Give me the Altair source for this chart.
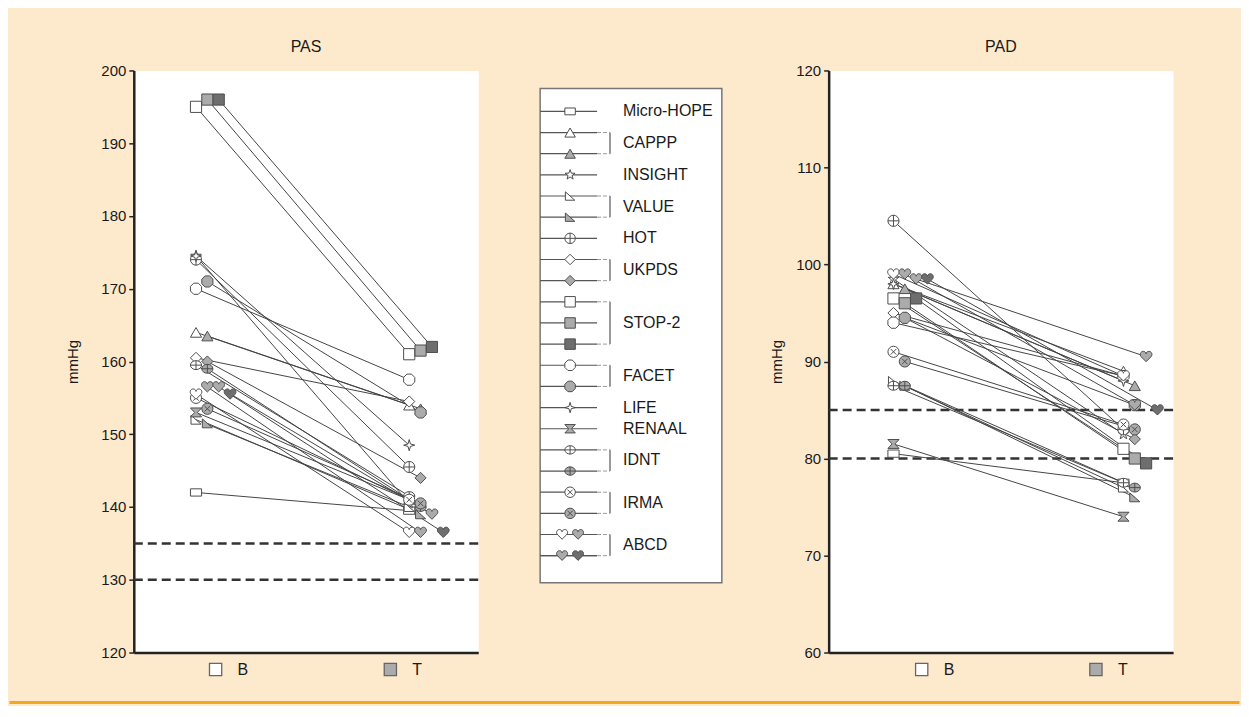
import altair as alt
import pandas as pd

FONT = "Liberation Sans, Arial, sans-serif"
BEIGE = "#FDE9CC"
ORANGE = "#F6A51F"
INK = "#1a1a1a"

# ---- data ----
groups = ["Micro-HOPE", "CAPPP", "CAPPP", "INSIGHT", "VALUE", "VALUE", "HOT",
          "UKPDS", "UKPDS", "STOP-2", "STOP-2", "STOP-2", "FACET", "FACET",
          "LIFE", "RENAAL", "IDNT", "IDNT", "IRMA", "IRMA",
          "ABCD", "ABCD", "ABCD", "ABCD"]
tones = ["white", "white", "grey", "white", "white", "grey", "white",
         "white", "grey", "white", "grey", "dark", "white", "grey",
         "white", "grey", "white", "grey", "white", "grey",
         "white", "grey", "grey", "dark"]
symbols = ["rect", "triangle", "triangle", "star", "value", "value", "hot",
           "diamond", "diamond", "square", "square", "square", "octagon", "octagon",
           "life", "renaal", "idnt", "idnt", "irma", "irma",
           "heart", "heart", "heart", "heart"]

pas_b = [142, 164, 163.5, 174.5, 152, 151.5, 174,
         160.5, 160, 195, 196, 196, 170, 171,
         174.5, 153, 159.5, 159, 155, 153.5,
         155.5, 156.5, 156.5, 155.5]
pas_t = [139.5, 154, 153.5, 140.5, 140, 139, 145.5,
         154.5, 144, 161, 161.5, 162, 157.5, 153,
         148.5, 141, 141.5, 140, 141, 140.5,
         136.5, 136.5, 139, 136.5]
pad_b = [80.5, 98, 97.5, 98.5, 88, 87.5, 104.5,
         95, 94.5, 96.5, 96, 96.5, 94, 94.5,
         98, 81.5, 87.5, 87.5, 91, 90,
         99, 99, 98.5, 98.5]
pad_t = [77.5, 89, 87.5, 82.5, 77, 76, 83,
         88.5, 82, 81, 80, 79.5, 88.5, 85.5,
         88, 74, 77.5, 77, 83.5, 83,
         88.5, 85.5, 90.5, 85]

time_labels = ["B", "T"]
time_tones = ["white", "grey"]
pas_targets = [130, 135]
pad_targets = [80, 85]
pas_ticks = [120, 130, 140, 150, 160, 170, 180, 190, 200]
pad_ticks = [60, 70, 80, 90, 100, 110, 120]

# ---- styles ----
tone_domain = ["white", "grey", "dark"]
tone_range = ["#ffffff", "#ababab", "#6e6e6e"]
shape_domain = ["rect", "triangle", "star", "value", "hot", "diamond", "square",
                "octagon", "life", "renaal", "idnt", "irma", "heart"]
shape_range = [
    "M-1,-0.65L1,-0.65L1,0.65L-1,0.65Z",
    "triangle-up",
    "M0,-1L0.235,-0.324L0.951,-0.309L0.38,0.124L0.588,0.809L0,0.4L-0.588,0.809L-0.38,0.124L-0.951,-0.309L-0.235,-0.324Z",
    "M-0.9,-0.8L0.9,0.8L-0.9,0.8Z",
    "M-1,0A1,1 0 1,0 1,0A1,1 0 1,0 -1,0Z M-1,0L1,0M0,-1L0,1",
    "diamond",
    "square",
    "M-0.41,-1L0.41,-1L1,-0.41L1,0.41L0.41,1L-0.41,1L-1,0.41L-1,-0.41Z",
    "M0,-1L0.22,-0.22L1,0L0.22,0.22L0,1L-0.22,0.22L-1,0L-0.22,-0.22Z",
    "M-1,-0.8L1,-0.8L0.25,0L1,0.8L-1,0.8L-0.25,0Z",
    "M-1,0A1,0.8 0 1,0 1,0A1,0.8 0 1,0 -1,0Z M-1,0L1,0M0,-0.8L0,0.8",
    "M-1,0A1,1 0 1,0 1,0A1,1 0 1,0 -1,0Z M-0.5,-0.5L0.5,0.5M-0.5,0.5L0.5,-0.5",
    "M0,0.9L-0.85,0.05C-1.25,-0.35 -1,-0.95 -0.5,-0.95C-0.2,-0.95 0,-0.7 0,-0.5C0,-0.7 0.2,-0.95 0.5,-0.95C1,-0.95 1.25,-0.35 0.85,0.05Z",
]
FILL = alt.Fill("tone:N", scale=alt.Scale(domain=tone_domain, range=tone_range), legend=None)
SHAPE = alt.Shape("symbol:N", scale=alt.Scale(domain=shape_domain, range=shape_range), legend=None)

# ---- build tables ----
member = []
counts = {}
for g in groups:
    member.append(counts.get(g, 0))
    counts[g] = counts.get(g, 0) + 1
series = [f"{g}-{m}" for g, m in zip(groups, member)]

recs = []
for i in range(len(groups)):
    for t, pas_v, pad_v in ((0, pas_b[i], pad_b[i]), (1, pas_t[i], pad_t[i])):
        recs.append(dict(series=series[i], group=groups[i], m=member[i], tone=tones[i],
                         symbol=symbols[i], t=t, pas=pas_v, pad=pad_v))
df = pd.DataFrame(recs)

time_df = pd.DataFrame({"t": [0, 1], "lab": time_labels, "tone": time_tones})
one_df = pd.DataFrame({"k": [1]})

# legend rows
leg = []
row = -1
for g, m, tone, sym in zip(groups, member, tones, symbols):
    if g == "ABCD":
        if m % 2 == 0:
            row += 1
        slot = 1 + m % 2
    else:
        row += 1
        slot = 0
    leg.append(dict(group=g, row=row, slot=slot, tone=tone, symbol=sym))
leg_df = pd.DataFrame(leg)
order = list(dict.fromkeys(groups))
gl = leg_df.groupby("group")["row"].agg(["min", "max"]).reindex(order).reset_index()
gl["mid"] = (gl["min"] + gl["max"]) / 2
n_rows = row + 1

W, H = 345, 583


def panel(field, title, ydom, ticks, targets, xdom, spread, title_pad, seg_l, seg_r):
    xs = alt.Scale(domain=xdom, nice=False, zero=False)
    ys = alt.Scale(domain=ydom, nice=False, zero=False)
    xaxis = alt.Axis(labels=False, ticks=False, title=None, grid=False,
                     domainColor="#222", domainWidth=2.5)
    yaxis = alt.Axis(values=ticks, title="mmHg", grid=False, domainColor="#222",
                     domainWidth=2.5, tickColor="#222", tickSize=5, tickWidth=1.5,
                     labelFont=FONT, labelFontSize=15, labelColor=INK, labelPadding=3,
                     titleFont=FONT, titleFontSize=15, titleFontWeight="normal",
                     titleColor=INK, titlePadding=title_pad)
    base = alt.Chart(df).transform_calculate(
        xj=f"datum.t + (datum.t - 0.5) * {spread} + (datum.m - 1) * 0.065")
    X = alt.X("xj:Q", scale=xs, axis=xaxis)
    Y = alt.Y(f"{field}:Q", scale=ys, axis=yaxis)

    dashes = alt.Chart(pd.DataFrame({"v": targets})).mark_rule(
        color="#333", strokeWidth=2.5, strokeDash=[9, 5]
    ).encode(y=alt.Y("v:Q", scale=ys, axis=yaxis))
    lines = base.mark_line(color="#454545", strokeWidth=1).encode(x=X, y=Y, detail="series:N")
    pts = base.mark_point(filled=True, opacity=1, stroke="#4d4d4d", strokeWidth=1, size=125).encode(
        x=X, y=Y, shape=SHAPE, fill=FILL)
    sw = alt.Chart(time_df).mark_square(size=150, opacity=1, stroke="#666", strokeWidth=1.3,
                                        xOffset=-11).encode(
        x=alt.X("t:Q", scale=xs, axis=xaxis), y=alt.value(H + 17), fill=FILL)
    lab = alt.Chart(time_df).mark_text(align="left", baseline="middle", dx=11, font=FONT,
                                       fontSize=16, color=INK).encode(
        x=alt.X("t:Q", scale=xs, axis=xaxis), y=alt.value(H + 18), text="lab:N")
    orange = alt.Chart(one_df).mark_rule(color=ORANGE, strokeWidth=3, strokeCap="square").encode(
        x=alt.value(seg_l), x2=alt.value(seg_r), y=alt.value(H + 50))
    return alt.layer(dashes, lines, pts, sw, lab, orange).properties(
        width=W, height=H,
        title=alt.TitleParams(title, font=FONT, fontSize=16, fontWeight="normal",
                              color=INK, offset=8, frame="group"),
        view=alt.ViewBackground(fill="white", stroke="transparent"),
    )


pas = panel("pas", "PAS", [120, 200], pas_ticks, pas_targets, [-0.531, 1.44], 0.22, 20, -123, 374)
pad = panel("pad", "PAD", [60, 120], pad_ticks, pad_targets, [-0.597, 1.38], 0.32, 11, -79, 410)

# ---- legend panel (same height as the plots, box drawn inside) ----
ROW0, ROWN = 41, 486   # first / last row centre inside the panel
step = (ROWN - ROW0) / (n_rows - 1)
ly = alt.Scale(domain=[-ROW0 / step, (n_rows - 1) + (H - ROWN) / step],
               reverse=True, nice=False, zero=False)
LY = alt.Y("row:Q", scale=ly, axis=None)
box = alt.Chart(one_df).mark_rect(fill="white", stroke="#777", strokeWidth=1.5).encode(
    x=alt.value(0), x2=alt.value(182), y=alt.value(18), y2=alt.value(513))
lbase = alt.Chart(leg_df)
row_lines = lbase.mark_rule(color="#555", strokeWidth=1.2).encode(
    x=alt.value(0), x2=alt.value(57), y=LY)
slot_x = {0: 30, 1: 22, 2: 38}
markers = [
    lbase.transform_filter(f"datum.slot == {s}").mark_point(
        filled=True, opacity=1, stroke="#4d4d4d", strokeWidth=1, size=110
    ).encode(x=alt.value(xv), y=LY, shape=SHAPE, fill=FILL)
    for s, xv in slot_x.items()
]
gbase = alt.Chart(gl).transform_filter("datum.max > datum.min")
br_v = gbase.mark_rule(color="#9a9a9a", strokeWidth=2).encode(
    x=alt.value(70), y=alt.Y("min:Q", scale=ly, axis=None), y2="max:Q")
br_top = gbase.mark_rule(color="#9a9a9a", strokeWidth=1, strokeDash=[4, 2]).encode(
    x=alt.value(57), x2=alt.value(70), y=alt.Y("min:Q", scale=ly, axis=None))
br_bot = gbase.mark_rule(color="#9a9a9a", strokeWidth=1, strokeDash=[4, 2]).encode(
    x=alt.value(57), x2=alt.value(70), y=alt.Y("max:Q", scale=ly, axis=None))
glabels = alt.Chart(gl).mark_text(align="left", baseline="middle", font=FONT,
                                  fontSize=16, color=INK).encode(
    x=alt.value(83), y=alt.Y("mid:Q", scale=ly, axis=None), text="group:N")
lorange = alt.Chart(one_df).mark_rule(color=ORANGE, strokeWidth=3, strokeCap="square").encode(
    x=alt.value(-31), x2=alt.value(208), y=alt.value(H + 50))

legend = alt.layer(box, row_lines, br_top, br_bot, br_v, *markers, glabels, lorange).properties(
    width=182, height=H,
    view=alt.ViewBackground(fill="transparent", stroke="transparent"),
)

chart = alt.hconcat(pas, legend, pad, spacing=-4).properties(
    background=BEIGE,
    padding={"top": 30, "left": 0, "right": 0, "bottom": 0},
).configure_view(stroke="transparent")

chart.save("out.html", embed_options={"renderer": "svg", "actions": False})
